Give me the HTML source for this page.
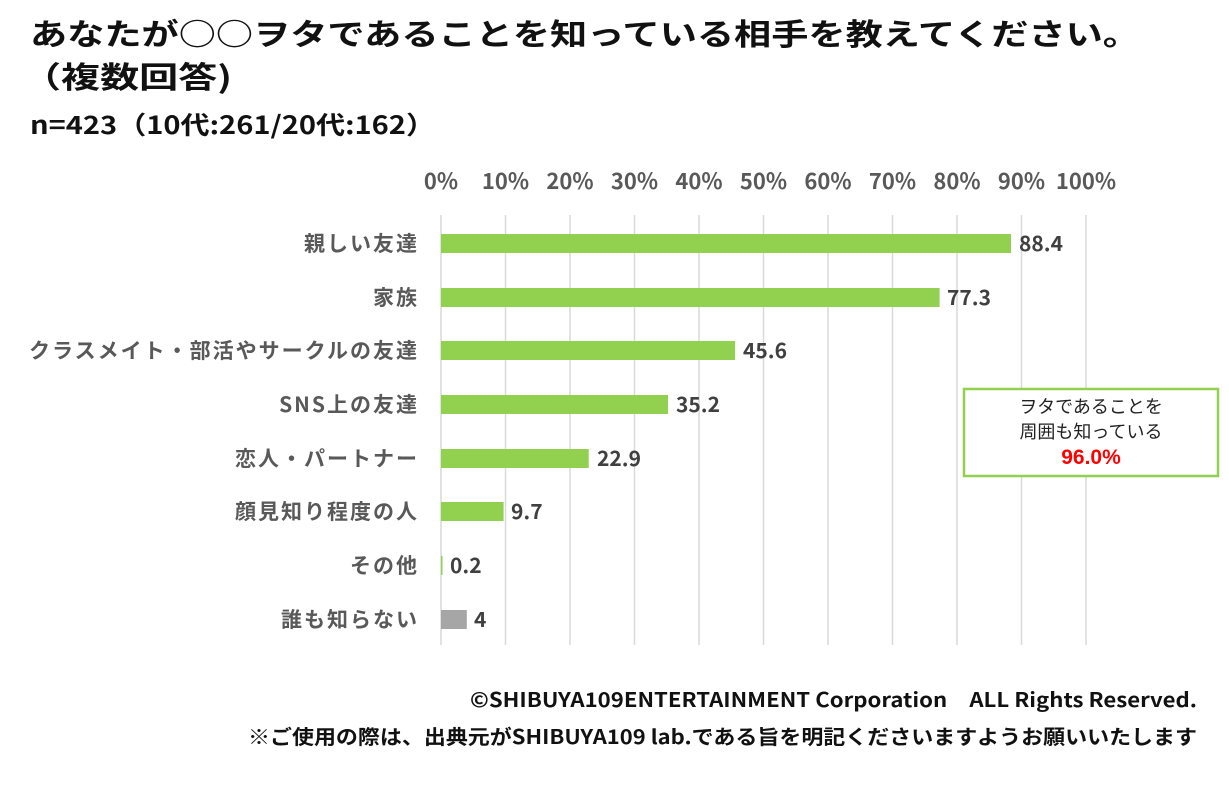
<!DOCTYPE html>
<html><head><meta charset="utf-8"><style>
body{margin:0;background:#fff;}
svg{display:block;font-family:"Noto Sans CJK JP","Liberation Sans",sans-serif;}
</style></head><body>
<svg width="1229" height="789" xmlns="http://www.w3.org/2000/svg">
<g font-weight="bold" fill="#111">
<text x="30" y="45" font-size="30" textLength="1110" lengthAdjust="spacingAndGlyphs">あなたが○○ヲタであることを知っている相手を教えてください。</text>
<text x="22" y="88" font-size="30" textLength="210" lengthAdjust="spacingAndGlyphs">（複数回答)</text>
<text x="30" y="134" font-size="25" textLength="405" lengthAdjust="spacingAndGlyphs">n=423（10代:261/20代:162）</text>
</g>
<g stroke="#d9d9d9" stroke-width="1.5">
<line x1="441" y1="215" x2="441" y2="645"/><line x1="505.5" y1="215" x2="505.5" y2="645"/><line x1="570" y1="215" x2="570" y2="645"/><line x1="634.5" y1="215" x2="634.5" y2="645"/><line x1="699" y1="215" x2="699" y2="645"/><line x1="763.5" y1="215" x2="763.5" y2="645"/><line x1="828" y1="215" x2="828" y2="645"/><line x1="892.5" y1="215" x2="892.5" y2="645"/><line x1="957" y1="215" x2="957" y2="645"/><line x1="1021.5" y1="215" x2="1021.5" y2="645"/><line x1="1086" y1="215" x2="1086" y2="645"/>
</g>
<g font-size="22" font-weight="bold" fill="#595959" text-anchor="middle">
<text x="441" y="189">0%</text><text x="505.5" y="189">10%</text><text x="570" y="189">20%</text><text x="634.5" y="189">30%</text><text x="699" y="189">40%</text><text x="763.5" y="189">50%</text><text x="828" y="189">60%</text><text x="892.5" y="189">70%</text><text x="957" y="189">80%</text><text x="1021.5" y="189">90%</text><text x="1086" y="189">100%</text>
</g>
<g fill="#92d050">
<rect x="441" y="234" width="570" height="19"/>
<rect x="441" y="288" width="498.6" height="19"/>
<rect x="441" y="341" width="294.1" height="19"/>
<rect x="441" y="395" width="227" height="19"/>
<rect x="441" y="449" width="147.7" height="19"/>
<rect x="441" y="502" width="62.6" height="19"/>
<rect x="441" y="556" width="1.5" height="19"/>
</g>
<rect x="441" y="610" width="25.8" height="19" fill="#a6a6a6"/>
<g font-size="21" font-weight="bold" fill="#404040">
<text x="1019" y="251">88.4</text><text x="947" y="305">77.3</text><text x="743" y="358">45.6</text><text x="676" y="412">35.2</text><text x="597" y="466">22.9</text><text x="511" y="519">9.7</text><text x="450" y="573">0.2</text><text x="474" y="627">4</text>
</g>
<g font-size="21" font-weight="bold" fill="#595959" text-anchor="end" letter-spacing="2">
<text x="419" y="251">親しい友達</text><text x="419" y="305">家族</text><text x="419" y="358">クラスメイト・部活やサークルの友達</text><text x="419" y="412">SNS上の友達</text><text x="419" y="466">恋人・パートナー</text><text x="419" y="519">顔見知り程度の人</text><text x="419" y="573">その他</text><text x="419" y="627">誰も知らない</text>
</g>
<rect x="964" y="389" width="254" height="87" fill="#fff" stroke="#92d050" stroke-width="2.5"/>
<g text-anchor="middle" font-size="18" fill="#222">
<text x="1091" y="413">ヲタであることを</text><text x="1091" y="438">周囲も知っている</text>
</g>
<text x="1091" y="464" text-anchor="middle" font-size="21" font-weight="bold" fill="#ff0000" font-family="Liberation Sans,sans-serif">96.0%</text>
<g font-size="20" font-weight="bold" fill="#111">
<text x="470" y="707" textLength="727" lengthAdjust="spacingAndGlyphs">©SHIBUYA109ENTERTAINMENT Corporation　ALL Rights Reserved.</text>
<text x="248" y="744" textLength="949" lengthAdjust="spacingAndGlyphs">※ご使用の際は、出典元がSHIBUYA109 lab.である旨を明記くださいますようお願いいたします</text>
</g>
</svg>
</body></html>
